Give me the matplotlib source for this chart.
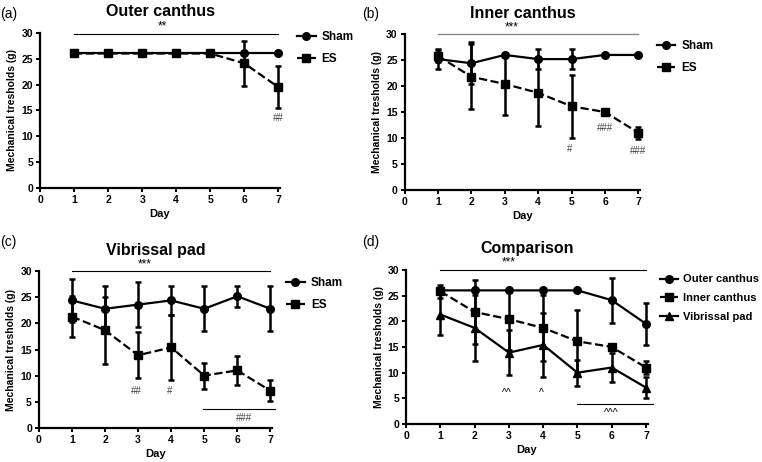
import matplotlib
matplotlib.use('Agg')
import matplotlib.pyplot as plt
from matplotlib.lines import Line2D

plt.rcParams['font.family'] = ['Liberation Sans', 'DejaVu Sans']

days = [1, 2, 3, 4, 5, 6, 7]

# (a) outer canthus
outer_sham = [26, 26, 26, 26, 26, 26, 26]
outer_sham_err = [0, 0, 0, 0, 0, 0, 0]
outer_es = [26, 26, 26, 26, 26, 24.1, 19.5]
outer_es_err = [0, 0, 0, 0, 0, 4.4, 4.1]

# (b) inner canthus
inner_sham = [25.2, 24.4, 26, 25.2, 25.2, 26, 26]
inner_sham_err = [2.0, 4.0, 0, 2.0, 2.0, 0, 0]
inner_es = [25.8, 21.8, 20.4, 18.7, 16.1, 15.0, 11.0]
inner_es_err = [1.2, 6.3, 5.9, 6.4, 6.1, 0.3, 1.2]

# (c) vibrissal pad
vib_sham = [24.4, 22.8, 23.6, 24.4, 22.8, 25.2, 22.8]
vib_sham_err = [4.1, 4.3, 4.3, 2.7, 4.3, 2.0, 4.3]
vib_es = [21.3, 18.7, 13.9, 15.4, 10.0, 11.0, 7.1]
vib_es_err = [4.0, 6.4, 4.4, 6.2, 2.5, 2.8, 2.0]

ylab = 'Mechanical tresholds (g)'


def setup(ax, title):
    ax.set_xlim(0, 7.05)
    ax.set_ylim(0, 30)
    ax.set_xticks(range(8))
    ax.set_yticks(range(0, 31, 5))
    ax.spines['top'].set_visible(False)
    ax.spines['right'].set_visible(False)
    ax.spines['left'].set_linewidth(1.6)
    ax.spines['bottom'].set_linewidth(1.6)
    ax.tick_params(width=1.4, length=3, labelsize=7.5, pad=2)
    for t in ax.get_xticklabels() + ax.get_yticklabels():
        t.set_fontweight('bold')
    ax.set_xlabel('Day', fontsize=8, fontweight='bold', labelpad=3)
    ax.set_ylabel(ylab, fontsize=7.5, fontweight='bold', labelpad=3)
    ax.set_title(title, fontsize=11.5, fontweight='bold', pad=12)


def series(ax, y, err, ls, marker):
    ax.errorbar(days, y, yerr=err, color='black', ls=ls, lw=1.6, marker=marker,
                ms=5.5, capsize=2.5, elinewidth=1.8, capthick=1.8,
                clip_on=False)


def add_legend(ax, styles, labels, x, y, size=8.5):
    handles = [Line2D([], [], color='black', ls=ls, lw=1.6, marker=m, ms=5.5)
               for ls, m in styles]
    ax.legend(handles, labels, loc='upper left', bbox_to_anchor=(x, y),
              frameon=False, prop={'weight': 'bold', 'size': size},
              handlelength=1.6, handletextpad=0.5, labelspacing=0.8,
              borderpad=0, borderaxespad=0)


fig = plt.figure(figsize=(7.62, 4.62), dpi=100)
ax_a = fig.add_axes([0.0525, 0.593, 0.315, 0.336])
ax_b = fig.add_axes([0.531, 0.589, 0.309, 0.337])
ax_c = fig.add_axes([0.051, 0.074, 0.306, 0.339])
ax_d = fig.add_axes([0.533, 0.082, 0.317, 0.334])

two = [('-', 'o'), ('--', 's')]

# (a)
series(ax_a, outer_sham, outer_sham_err, '-', 'o')
series(ax_a, outer_es, outer_es_err, '--', 's')
setup(ax_a, 'Outer canthus')
add_legend(ax_a, two, ['Sham', 'ES'], 1.07, 1.01)
ax_a.plot([1, 7], [29.8, 29.8], color='black', lw=0.8, clip_on=False)
ax_a.text(3.6, 30.0, '**', ha='center', va='bottom', fontsize=8.5)
ax_a.text(7, 13.5, '##', ha='center', va='center', fontsize=7, color='#444444')

# (b)
series(ax_b, inner_sham, inner_sham_err, '-', 'o')
series(ax_b, inner_es, inner_es_err, '--', 's')
setup(ax_b, 'Inner canthus')
add_legend(ax_b, two, ['Sham', 'ES'], 1.07, 0.96)
ax_b.plot([1, 7], [30, 30], color='#888888', lw=1.0, clip_on=False)
ax_b.text(3.2, 30.2, '***', ha='center', va='bottom', fontsize=8.5)
ax_b.text(4.95, 7.9, '#', ha='center', va='center', fontsize=7, color='#444444')
ax_b.text(6.0, 12.0, '###', ha='center', va='center', fontsize=7, color='#444444')
ax_b.text(7.0, 7.5, '###', ha='center', va='center', fontsize=7, color='#444444')

# (c)
series(ax_c, vib_sham, vib_sham_err, '-', 'o')
series(ax_c, vib_es, vib_es_err, '--', 's')
setup(ax_c, 'Vibrissal pad')
add_legend(ax_c, two, ['Sham', 'ES'], 1.06, 0.96)
ax_c.plot([1, 7], [30, 30], color='black', lw=0.8, clip_on=False)
ax_c.text(3.2, 30.2, '***', ha='center', va='bottom', fontsize=8.5)
ax_c.text(2.95, 7.0, '##', ha='center', va='center', fontsize=7, color='#444444')
ax_c.text(3.95, 7.0, '#', ha='center', va='center', fontsize=7, color='#444444')
ax_c.plot([4.95, 7.15], [3.6, 3.6], color='black', lw=0.8, clip_on=False)
ax_c.text(6.2, 1.8, '###', ha='center', va='center', fontsize=7, color='#444444')

# (d)
series(ax_d, outer_es, outer_es_err, '-', 'o')
series(ax_d, inner_es, inner_es_err, '--', 's')
series(ax_d, vib_es, vib_es_err, '-', '^')
setup(ax_d, 'Comparison')
add_legend(ax_d, [('-', 'o'), ('--', 's'), ('-', '^')],
           ['Outer canthus', 'Inner canthus', 'Vibrissal pad'], 1.05, 0.97, size=8)
ax_d.plot([1, 7], [30, 30], color='black', lw=0.8, clip_on=False)
ax_d.text(3.0, 30.2, '***', ha='center', va='bottom', fontsize=8.5)
ax_d.text(2.95, 6.0, '^^', ha='center', va='center', fontsize=7.5)
ax_d.text(3.95, 6.0, '^', ha='center', va='center', fontsize=7.5)
ax_d.plot([5, 7.2], [3.9, 3.9], color='black', lw=0.8, clip_on=False)
ax_d.text(6.0, 2.1, '^^^', ha='center', va='center', fontsize=7.5)

fig.text(0.0, 0.985, '(a)', ha='left', va='top', fontsize=10)
fig.text(0.475, 0.985, '(b)', ha='left', va='top', fontsize=10)
fig.text(0.0, 0.492, '(c)', ha='left', va='top', fontsize=10)
fig.text(0.475, 0.492, '(d)', ha='left', va='top', fontsize=10)

fig.savefig('out.png', dpi=100)
